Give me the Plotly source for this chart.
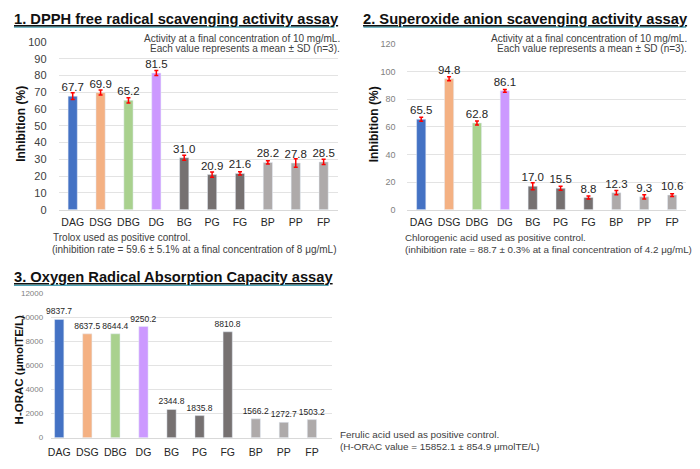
import plotly.graph_objects as go

# ---------------- data ----------------
categories = ["DAG", "DSG", "DBG", "DG", "BG", "PG", "FG", "BP", "PP", "FP"]
bar_colors = ["#4472C4", "#F4B183", "#A9D18E", "#CC99FF",
              "#767171", "#767171", "#767171",
              "#AEAAAA", "#AEAAAA", "#AEAAAA"]

dpph_values = [67.7, 69.9, 65.2, 81.5, 31.0, 20.9, 21.6, 28.2, 27.8, 28.5]
dpph_sd = [2.0, 1.5, 1.5, 1.5, 1.5, 1.5, 1.0, 1.0, 2.5, 1.5]

superoxide_values = [65.5, 94.8, 62.8, 86.1, 17.0, 15.5, 8.8, 12.3, 9.3, 10.6]
superoxide_sd = [1.5, 1.5, 1.5, 1.0, 2.5, 1.5, 1.0, 1.5, 1.5, 1.0]

orac_values = [9837.7, 8637.5, 8644.4, 9250.2, 2344.8, 1835.8, 8810.8, 1566.2, 1272.7, 1503.2]

W, H = 700, 469
FONT = "Arial, Liberation Sans, sans-serif"
TXT = "#262626"


def px(x):
    return x / W


def py(y):
    return 1 - y / H


fig = go.Figure()

fig.add_trace(go.Bar(
    x=categories, y=dpph_values, marker_color=bar_colors, width=0.33,
    error_y=dict(type="data", array=dpph_sd, color="#FF0000", thickness=1.5, width=2),
    text=[f"{v:.1f}" for v in dpph_values], textposition="outside", constraintext="none",
    textfont=dict(family=FONT, size=11.5, color=TXT), cliponaxis=False,
    xaxis="x", yaxis="y", showlegend=False))

fig.add_trace(go.Bar(
    x=categories, y=superoxide_values, marker_color=bar_colors, width=0.33,
    error_y=dict(type="data", array=superoxide_sd, color="#FF0000", thickness=1.5, width=2),
    text=[f"{v:.1f}" for v in superoxide_values], textposition="outside", constraintext="none",
    textfont=dict(family=FONT, size=11.5, color=TXT), cliponaxis=False,
    xaxis="x2", yaxis="y2", showlegend=False))

fig.add_trace(go.Bar(
    x=categories, y=orac_values, marker_color=bar_colors, width=0.33,
    text=[f"{v:.1f}" for v in orac_values], textposition="outside", constraintext="none",
    textfont=dict(family=FONT, size=8.5, color=TXT), cliponaxis=False,
    xaxis="x3", yaxis="y3", showlegend=False))

grid = "#E3E3E3"
xcommon = dict(type="category", showgrid=False, showline=True, linecolor="#D9D9D9",
               ticks="outside", tickcolor="rgba(0,0,0,0)", fixedrange=True)
ycommon = dict(showgrid=True, gridcolor=grid, gridwidth=1, zeroline=False, showline=False,
               ticks="outside", tickcolor="rgba(0,0,0,0)", tickformat="d")

fig.update_layout(
    width=W, height=H, margin=dict(l=0, r=0, t=0, b=0),
    paper_bgcolor="white", plot_bgcolor="white",
    font=dict(family=FONT, color=TXT),
    xaxis=dict(domain=[px(56), px(336)], anchor="y", range=[-0.5, 9.5], ticklen=3,
               tickfont=dict(size=10.5, color=TXT), **xcommon),
    yaxis=dict(domain=[py(209), py(37)], anchor="x", range=[0, 100], dtick=10, ticklen=9,
               tickfont=dict(size=11, color="#404040"), **ycommon),
    xaxis2=dict(domain=[px(406), px(686)], anchor="y2", range=[-0.5, 9.5], ticklen=3,
                tickfont=dict(size=10.5, color=TXT), **xcommon),
    yaxis2=dict(domain=[py(209), py(39)], anchor="x2", range=[0, 120], dtick=20, ticklen=9,
                tickfont=dict(size=9, color="#7F7F7F"), **ycommon),
    xaxis3=dict(domain=[px(48), px(330)], anchor="y3", range=[-0.3, 9.7], ticklen=5,
                tickfont=dict(size=10.5, color=TXT), **xcommon),
    yaxis3=dict(domain=[py(443), py(295)], anchor="x3", range=[0, 12000], dtick=2000, ticklen=5,
                tickfont=dict(size=8, color="#7F7F7F"), **ycommon),
)

ann = []
shapes = []


def note(x, y, text, size=9.5, anchor="left", color="#404040", bold=False, angle=0):
    t = f"<b>{text}</b>" if bold else text
    ann.append(dict(x=px(x), y=py(y), xref="paper", yref="paper", text=t, showarrow=False,
                    xanchor=anchor, yanchor="middle", textangle=angle,
                    font=dict(family=FONT, size=size, color=color)))


# titles
titles = [
    (9, 13, "1. DPPH free radical scavenging activity assay", 333, 21.5),
    (360, 13, "2. Superoxide anion scavenging activity assay", 686, 21.5),
    (9, 278, "3. Oxygen Radical Absorption Capacity assay", 327, 286.5),
]
for x, y, t, xr, yl in titles:
    note(x, y, f"<u>{t}</u>", size=14.7, color="#111111", bold=True)
    shapes.append(dict(type="line", xref="paper", yref="paper", x0=px(x + 2), x1=px(xr),
                       y0=py(yl), y1=py(yl), line=dict(color="#4BA3B5", width=1.5)))

# axis titles
note(18, 121, "Inhibition (%)", size=12, anchor="center", color="#111111", bold=True, angle=-90)
note(372, 121, "Inhibition (%)", size=12, anchor="center", color="#111111", bold=True, angle=-90)
note(17, 373, "H-ORAC (μmolTE/L)", size=11.5, anchor="center", color="#111111", bold=True, angle=-90)

# notes
for xr in (340, 689):
    note(xr, 33, "Activity at a final concentration of 10 mg/mL.", size=10, anchor="right")
    note(xr, 44, "Each value represents a mean ± SD (n=3).", size=10, anchor="right")

note(48, 238, "Trolox used as positive control.", size=10)
note(47, 250, "(inhibition rate = 59.6 ± 5.1% at a final concentration of 8 μg/mL)", size=10)
note(402, 238, "Chlorogenic acid used as positive control.", size=9.8)
note(402, 250, "(inhibition rate = 88.7 ± 0.3% at a final concentration of 4.2 μg/mL)", size=9.8)
note(336, 440, "Ferulic acid used as positive control.", size=9.9)
note(336, 452, "(H-ORAC value = 15852.1 ± 854.9 μmolTE/L)", size=9.9)

fig.update_layout(annotations=ann, shapes=shapes)

fig.write_html("out.html", config={"displayModeBar": False},
               post_script="document.body.style.margin='0';")
